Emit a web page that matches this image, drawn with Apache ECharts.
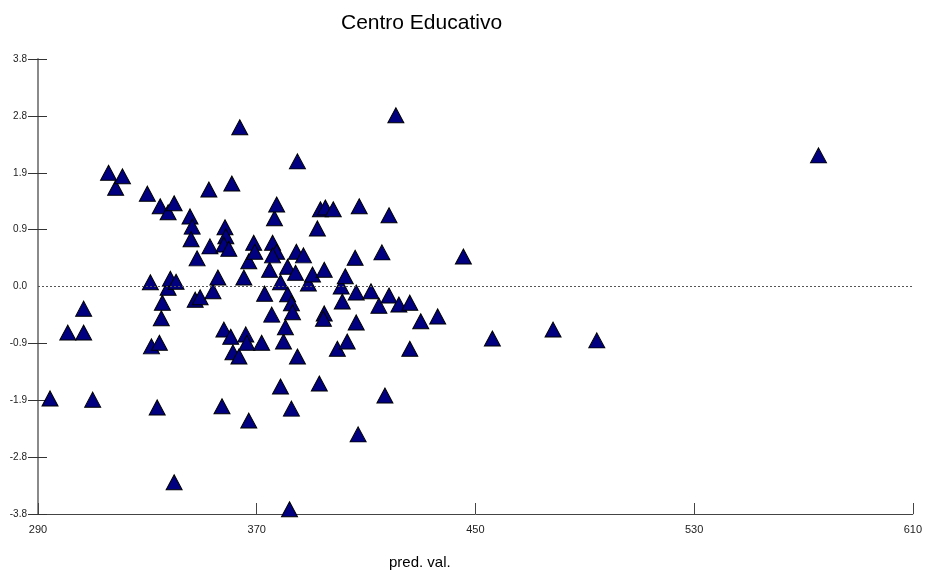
<!DOCTYPE html>
<html>
<head>
<meta charset="utf-8">
<script src="https://cdn.jsdelivr.net/npm/echarts@6/dist/echarts.min.js"></script>
<style>
  html, body { margin: 0; padding: 0; background: #fff; }
  #chart { width: 925px; height: 574px; }
</style>
</head>
<body>
<div id="chart"></div>
<script>
// predicted values (x) and residuals (y)
var predVal = [
  294.4, 300.9, 306.7, 306.7, 310.0, 315.8, 318.4, 320.9, 330.0, 331.1,
  331.5, 333.6, 334.4, 334.7, 335.1, 335.5, 337.6, 337.6, 338.4, 339.8,
  339.8, 340.5, 345.6, 346.4, 346.0, 348.2, 347.5, 349.3, 352.5, 352.9,
  354.0, 355.8, 357.3, 358.0, 358.4, 358.7, 358.0, 359.8, 360.5, 360.9,
  361.3, 363.5, 363.8, 365.3, 366.0, 366.4, 367.1, 367.1, 368.9, 369.3,
  371.8, 372.9, 374.7, 375.5, 375.8, 377.3, 375.8, 376.5, 377.3, 378.7,
  378.7, 379.8, 380.5, 381.3, 381.3, 382.7, 383.1, 382.7, 382.0, 384.2,
  384.5, 384.9, 384.9, 387.1, 388.9, 390.4, 392.2, 392.9, 393.3, 394.7,
  394.7, 394.4, 395.1, 398.0, 399.5, 400.9, 401.3, 402.4, 403.1, 406.0,
  406.4, 406.4, 407.1, 407.5, 411.8, 414.7, 415.8, 416.9, 418.4, 418.4,
  420.9, 422.0, 426.0, 426.0, 430.0, 436.2, 445.6, 456.2, 478.4, 494.4,
  575.5
];
var residual = [
  -1.87, -0.77, -0.77, -0.37, -1.89, 1.90, 1.65, 1.84, 1.55, 0.07,
  -1.00, -2.02, -0.94, 1.34, -0.53, -0.27, 1.24, -0.02, 0.13, 1.39,
  -3.27, 0.08, 1.17, 1.00, 0.79, 0.47, -0.22, -0.18, 1.62, 0.67,
  -0.08, 0.15, -2.00, -0.72, 0.99, 0.84, 0.70, 0.63, -0.84, 1.72,
  -1.10, -1.17, 2.66, 0.15, -0.80, -0.94, -2.24, 0.42, 0.73, 0.58,
  -0.94, -0.12, 0.28, -0.47, 0.73, 0.58, 0.52, 1.14, 1.37, 0.07,
  -1.67, -0.92, -0.68, 0.33, -0.13, -0.28, -0.43, -2.04, -3.72, 0.23,
  0.58, 2.09, -1.17, 0.52, 0.05, 0.20, 0.97, -1.62, 1.29, 0.28,
  -0.45, -0.54, 1.32, 1.29, -1.04, 0.00, -0.25, 0.17, -0.92, 0.48,
  -0.10, -0.60, -2.47, 1.34, -0.08, -0.32, 0.57, -1.82, 1.19, -0.15,
  2.86, -0.30, -0.27, -1.04, -0.58, -0.50, 0.50, -0.87, -0.72, -0.90,
  2.19
];
var xTicks = [290, 370, 450, 530, 610];
var yTicks = [-3.8, -2.85, -1.9, -0.95, 0, 0.95, 1.9, 2.85, 3.8];
var yTickMarks = [-3.8, -2.85, -1.9, -0.95, 0.95, 1.9, 2.85, 3.8];

var points = predVal.map(function (v, i) { return [v, residual[i]]; });

function yLabel(v) {
  var t = Math.trunc(Math.round(v * 1000) / 100) / 10;
  return t.toFixed(1);
}

var chart = echarts.init(document.getElementById('chart'));
var yBase = {
  type: 'value',
  min: -3.8,
  max: 3.8,
  position: 'left',
  splitLine: { show: false }
};
chart.setOption({
  backgroundColor: '#fff',
  animation: false,
  title: {
    text: 'Centro Educativo',
    left: 336,
    top: 8,
    textStyle: {
      fontFamily: 'Liberation Sans',
      fontSize: 21,
      fontWeight: 'normal',
      color: '#000'
    }
  },
  graphic: [{
    type: 'text',
    left: 389,
    top: 555,
    style: {
      text: 'pred. val.',
      font: '15px "Liberation Sans"',
      fill: '#000'
    }
  }],
  grid: { left: 38, right: 7, top: 59, bottom: 60 },
  xAxis: {
    type: 'value',
    min: 290,
    max: 610,
    splitLine: { show: false },
    axisLine: { onZero: false, lineStyle: { color: '#444', width: 1 } },
    axisTick: {
      inside: true,
      length: 11,
      customValues: xTicks,
      lineStyle: { color: '#444' }
    },
    axisLabel: {
      customValues: xTicks,
      margin: 10,
      fontFamily: 'Liberation Sans',
      fontSize: 11,
      color: '#222'
    }
  },
  yAxis: [
    Object.assign({}, yBase, {
      axisLine: { show: true, lineStyle: { color: '#8a8a8a', width: 2 } },
      axisTick: {
        inside: false,
        length: 10,
        customValues: yTickMarks,
        lineStyle: { color: '#333' }
      },
      axisLabel: {
        customValues: yTicks,
        margin: 11,
        formatter: yLabel,
        fontFamily: 'Liberation Sans',
        fontSize: 10,
        color: '#222'
      }
    }),
    Object.assign({}, yBase, {
      axisLine: { show: false },
      axisTick: {
        inside: true,
        length: 9,
        customValues: yTickMarks,
        lineStyle: { color: '#333' }
      },
      axisLabel: { show: false }
    })
  ],
  series: [{
    type: 'scatter',
    data: points,
    symbol: 'triangle',
    symbolSize: [16, 15],
    itemStyle: {
      color: '#000080',
      borderColor: '#000',
      borderWidth: 1,
      opacity: 1
    },
    markLine: {
      silent: true,
      symbol: 'none',
      label: { show: false },
      lineStyle: { type: [2, 2], color: '#555', width: 1 },
      data: [{ yAxis: 0 }]
    },
    z: 3
  }]
});
</script>
</body>
</html>
